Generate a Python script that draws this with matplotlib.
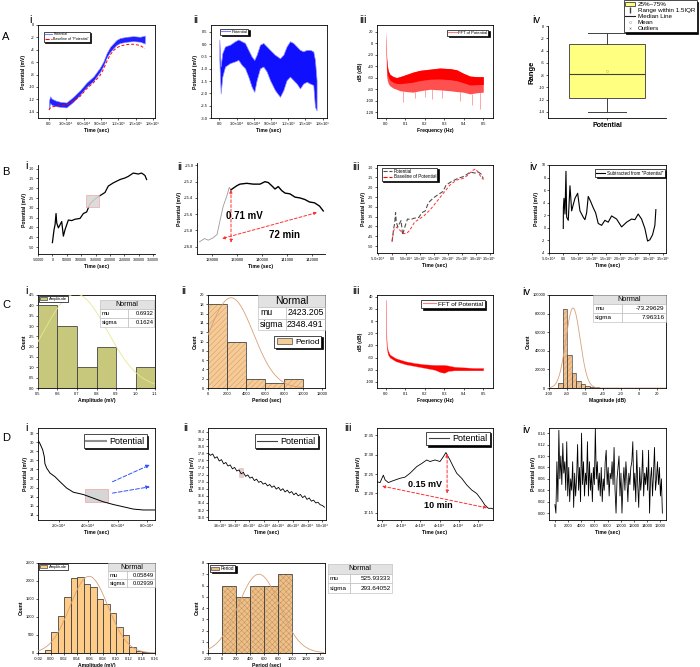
import numpy as np
import matplotlib
matplotlib.use("Agg")
import matplotlib.pyplot as plt
from matplotlib.patches import Rectangle, Patch
from matplotlib.lines import Line2D

# ------------------------------------------------------------------ data
# A.i  potential (noise band) and its baseline
ai_t = [0, 2000, 5000, 12000, 20000, 30000, 42000, 54000, 65000, 77000, 88000, 94000,
        100000, 106000, 112000, 117000, 123000, 135000, 146000, 158000, 166000]
ai_hi = [-12.2, -11.5, -11.9, -12.2, -12.4, -12.5, -11.6, -10.5, -9.3, -8.3, -6.9, -5.9,
         -4.5, -3.5, -2.9, -2.4, -2.1, -1.9, -1.8, -1.9, -1.7]
ai_lo = [-13.6, -12.6, -12.9, -13.1, -13.2, -13.3, -12.4, -11.2, -10.0, -9.0, -7.6, -6.6,
         -5.2, -4.3, -3.7, -3.2, -2.9, -2.7, -2.6, -2.7, -3.0]
ai_base = [-13.7, -13.4, -13.2, -13.1, -13.0, -12.9, -12.3, -11.5, -10.3, -9.3, -8.2, -7.2,
           -5.9, -4.8, -4.1, -3.7, -3.4, -3.15, -3.1, -3.3, -3.8]

# A.ii  detrended potential (noise band)
aii_t = [0, 2300, 5200, 9900, 18600, 27300, 33100, 38900, 44700, 50500, 56300, 60900, 65000,
         70800, 76600, 82400, 88200, 96900, 105600, 111400, 117200, 123000, 128800, 134600,
         140400, 146200, 152000, 157800, 163600, 166500, 169400]
aii_hi = [0.19, -0.9, -0.36, -0.09, -0.02, 0.12, 0.19, 0.12, 0.05, -0.23, -0.5, -0.64, -0.43,
          -0.02, 0.05, -0.09, -0.23, -0.43, -0.57, -0.43, -0.09, 0.12, 0.05, -0.09, -0.23,
          -0.29, -0.23, -0.23, -0.29, -0.64, -1.46]
aii_lo = [-0.64, -2.0, -1.32, -0.91, -0.77, -0.7, -0.64, -0.84, -0.98, -1.32, -1.73, -1.94,
          -1.46, -0.98, -0.91, -1.11, -1.46, -1.87, -2.14, -1.87, -1.46, -1.32, -1.46, -1.6,
          -1.8, -1.6, -1.53, -1.6, -1.66, -2.55, -2.69]

# A.iii FFT of potential (band)
aiii_f = [0.0, 0.0034, 0.0068, 0.012, 0.0205, 0.0377, 0.0548, 0.072, 0.106, 0.140, 0.175,
          0.226, 0.277, 0.329, 0.363, 0.397, 0.432, 0.466, 0.5]
aiii_hi = [21, -25, -39, -48, -54, -58, -59.5, -58, -54, -50, -47, -45, -43, -44, -46, -52,
           -57, -58, -58]
aiii_lo = [-10, -57, -64, -70, -74, -78, -80, -82.5, -84, -85, -82.5, -80, -81, -82.5, -84,
           -85, -88, -86, -85]
aiii_spk_f = [0.09, 0.15, 0.2, 0.235, 0.29, 0.38, 0.44, 0.485]
aiii_spk_v = [-103, -95, -94, -97, -95, -101, -108, -114]

# A.iv box statistics
aiv_stats = dict(q1=-11.8, med=-7.8, q3=-3.0, whislo=-14.0, whishi=-1.2, mean=-7.4)

# B.i  potential
bi_t = [0, 3500, 5700, 9200, 12600, 15000, 20700, 26500, 32300, 38000, 43800, 49600, 55400,
        66900, 78500, 95800, 107400, 118900, 130500, 147800, 165100, 182400, 194000, 211300,
        234400, 251800, 263300, 280600, 297900, 309500, 321100, 326900]
bi_v = [-47.7, -43.6, -41.1, -38.6, -32.9, -37.7, -40.2, -38.6, -37.0, -44.4, -41.1, -38.6,
        -36.2, -36.5, -35.8, -35.4, -32.9, -32.1, -27.9, -25.5, -23.8, -22.2, -18.9, -17.3,
        -15.6, -14.8, -14.0, -12.3, -12.8, -12.3, -13.5, -15.6]

# B.ii  zoomed potential
bii_t = [137500, 137700, 137850, 138050, 138200, 138320, 138450, 138590, 138690, 138760,
         138850, 138990, 139120, 139390, 139650, 139920, 140120, 140250, 140390, 140520,
         140650, 140790, 140920, 141120, 141320, 141520, 141720, 141900, 142100, 142300, 142450]
bii_v = [-25.94, -25.90, -25.92, -25.89, -25.85, -25.68, -25.50, -25.38, -25.27, -25.30,
         -25.28, -25.25, -25.23, -25.22, -25.23, -25.23, -25.20, -25.21, -25.25, -25.29,
         -25.26, -25.31, -25.34, -25.35, -25.39, -25.40, -25.42, -25.45, -25.46, -25.50, -25.56]

# B.iii baseline of potential
biii_t = [0, 5900, 17300, 28700, 40500, 51900, 63300, 80600, 115200, 138400, 161600, 184400,
          207600, 230800, 253600, 270900, 288200, 300000, 311400, 322800, 328700]
biii_v = [-47.7, -42.0, -40.3, -42.0, -43.6, -43.6, -42.0, -37.8, -34.5, -31.2, -27.1, -23.0,
          -18.9, -16.4, -15.6, -14.0, -11.5, -10.7, -13.1, -15.6, -16.0]

# B.iv subtracted
biv_t = [0, 500, 2500, 6000, 9500, 11900, 17500, 23500, 29400, 35000, 41000, 50400, 58500,
         70000, 75900, 81900, 87500, 95900, 105000, 113400, 122500, 134400, 146000, 157500,
         169400, 186900, 204400, 221900, 239400, 251000, 262500, 274400, 286000, 295400,
         303500, 312900, 321000, 324500]
biv_v = [-0.1, 3.2, 4.7, 2.2, 9.0, 1.7, 1.2, 6.7, 2.7, 3.7, 4.7, 5.5, 2.7, 1.7, 1.3, 2.4,
         5.0, 4.2, 3.2, 2.4, 0.7, 0.4, 1.2, 0.9, 1.9, 1.4, 0.15, 0.9, 1.4, 1.3, 2.2, 1.4,
         -0.1, -2.1, -1.9, -1.1, 0.4, 2.9]

# C.i amplitude histogram
ci_edges = [0.5, 0.6, 0.7, 0.8, 0.9, 1.0, 1.1]
ci_counts = [4, 3, 1, 2, 0, 1]
ci_mu, ci_sigma, ci_peak = 0.6932, 0.1624, 4.55

# C.ii period histogram
cii_edges = [0, 2000, 4000, 6000, 8000, 10000]
cii_counts = [18, 10, 2, 1, 2]
cii_mu, cii_sigma, cii_peak = 2423.205, 2348.491, 19.4

# C.iii FFT (band)
ciii_f = [0.0, 0.001, 0.003, 0.005, 0.01, 0.02, 0.05, 0.1, 0.15, 0.2, 0.25, 0.28, 0.3, 0.32,
          0.35, 0.4, 0.45, 0.5]
ciii_hi = [35, 0, -30, -40, -48, -55, -61, -66, -69, -71, -72, -72, -72, -73, -75, -76, -77, -77]
ciii_lo = [5, -25, -42, -47, -55, -60, -66, -71, -74, -77, -80, -84, -85, -82, -81, -81, -81, -81]

# C.iv magnitude histogram
civ_edges = [-90, -85, -80, -75, -70, -65, -60, -55, -50, -45, -40, -35, -30]
civ_counts = [5000, 85000, 35000, 16000, 8000, 4000, 2000, 1000, 600, 300, 150, 80]
civ_mu, civ_sigma, civ_peak = -73.29629, 7.96316, 86000

# D.i potential
di_t = [5900, 7000, 8900, 10000, 10400, 11600, 13900, 17300, 20700, 25300, 29800, 36600,
        43400, 50200, 57100, 63900, 70700, 77500, 85500]
di_v = [30.3, 29.7, 28.3, 26.8, 25.3, 24.3, 23.2, 22.4, 21.3, 19.9, 19.0, 18.5, 17.7, 16.9,
        16.3, 15.8, 15.3, 15.1, 15.1]

# D.ii zoomed potential (sawtooth)
dii_t = [34400, 34700, 35000, 35300, 35600, 35900, 36200, 36500, 36800, 37100, 37400, 37700,
         38000, 38300, 38600, 38900, 39200, 39500, 39800, 40100, 40400, 40700, 41000, 41300,
         41600, 41900, 42200, 42500, 42800, 43100, 43400, 43700, 44000, 44300, 44600, 44900,
         45200, 45500, 45800, 46100, 46400, 46700, 47000, 47300, 47600, 47900, 48200, 48500,
         48800, 49100, 49400, 49700, 50000, 50300]
dii_v = [17.80, 17.74, 17.78, 17.66, 17.70, 17.58, 17.62, 17.50, 17.54, 17.44, 17.47, 17.36,
         17.40, 17.30, 17.33, 17.22, 17.26, 17.15, 17.19, 17.10, 17.13, 17.03, 17.07, 16.98,
         17.01, 16.93, 16.96, 16.88, 16.92, 16.84, 16.88, 16.79, 16.84, 16.75, 16.80, 16.71,
         16.76, 16.68, 16.72, 16.63, 16.68, 16.60, 16.64, 16.55, 16.60, 16.50, 16.54, 16.45,
         16.48, 16.40, 16.42, 16.35, 16.33, 16.28]

# D.iii 10-min detail
diii_t = [39974, 39990, 40007, 40016, 40033, 40059, 40094, 40120, 40146, 40181, 40207, 40233,
          40250, 40276, 40302, 40319, 40333, 40345, 40354, 40371, 40389, 40415, 40441, 40467,
          40493, 40519, 40536, 40554, 40571, 40579]
diii_v = [17.230, 17.228, 17.247, 17.235, 17.228, 17.233, 17.239, 17.242, 17.252, 17.269,
          17.277, 17.286, 17.282, 17.286, 17.282, 17.294, 17.305, 17.294, 17.286, 17.269,
          17.252, 17.239, 17.222, 17.209, 17.200, 17.183, 17.170, 17.162, 17.162, 17.160]

# D.iv oscillation
div_v = [0.015, 0.00, 0.09, 0.02, 0.145, 0.06, 0.10, 0.05, 0.122, 0.07, 0.09, 0.04, 0.125,
         0.03, 0.08, 0.02, 0.06, 0.04, 0.09, 0.01, 0.07, 0.03, 0.06, 0.12, 0.04, 0.08, 0.02,
         0.14, 0.05, 0.09, 0.03, 0.07, 0.05, 0.125, 0.03, 0.09, 0.04, 0.07, 0.02, 0.08, 0.05,
         0.148, 0.06, 0.09, 0.04, 0.07, 0.03, 0.08, 0.02, 0.06, 0.04, 0.09, 0.11, 0.05, 0.08,
         0.03, 0.07, 0.06, 0.09, 0.05, 0.115, 0.04, 0.00, 0.06, 0.08, 0.10, 0.03, 0.07, 0.00,
         0.05, 0.08, 0.04, 0.09, 0.06, 0.02, 0.07, 0.05, 0.08, 0.09, 0.125, 0.04, 0.07, 0.02,
         0.11, 0.05, 0.01, 0.08, 0.04, 0.06, 0.11, 0.03, 0.07, 0.05, 0.08, 0.04, 0.11, 0.00,
         0.06, 0.08, 0.03, 0.07, 0.115, 0.04, 0.06, 0.09, 0.05, 0.08, 0.03, 0.06, 0.00]
div_dt = 150

# E.i amplitude histogram
ei_edges = [-0.01, 0.0, 0.01, 0.02, 0.03, 0.04, 0.05, 0.06, 0.07, 0.08, 0.09, 0.10, 0.11,
            0.12, 0.13, 0.14, 0.15]
ei_counts = [80, 580, 1040, 1550, 2090, 2115, 1920, 1840, 1510, 1350, 1100, 715, 490, 170, 50, 20]
ei_mu, ei_sigma, ei_peak = 0.05849, 0.02939, 2130

# E.ii period histogram
eii_edges = [0, 200, 400, 600, 800, 1000]
eii_counts = [6, 5, 6, 6, 7]
eii_mu, eii_sigma, eii_peak = 525.93333, 293.64052, 7.0

# ------------------------------------------------------------------ style
plt.rcParams['font.family'] = ['Liberation Sans', 'DejaVu Sans']
plt.rcParams['axes.unicode_minus'] = False
plt.rcParams['hatch.linewidth'] = 0.35
plt.rcParams['axes.linewidth'] = 0.6

W, H = 700, 667
fig = plt.figure(figsize=(7, 6.67), dpi=100)


def axpx(l, t, r, b):
    return fig.add_axes([l / W, 1 - b / H, (r - l) / W, (b - t) / H])


def fmt(ax, xlabel, ylabel, box=True, fs=2.9, lfs=3.6):
    ax.tick_params(labelsize=fs, length=1.6, width=0.45, pad=1.0)
    ax.set_xlabel(xlabel, fontsize=lfs, fontweight='bold', labelpad=1.5)
    ax.set_ylabel(ylabel, fontsize=lfs, fontweight='bold', labelpad=1.5)
    if not box:
        ax.spines['top'].set_visible(False)
        ax.spines['right'].set_visible(False)


def ticks(ax, xt=None, xl=None, yt=None, yl=None):
    if xt is not None:
        ax.set_xticks(xt)
        ax.set_xticklabels(xl)
    if yt is not None:
        ax.set_yticks(yt)
        ax.set_yticklabels(yl)


def sci(m, e):
    sup = {'4': '⁴', '5': '⁵'}
    return f"{m}×10{sup[str(e)]}"


def leg(ax, handles, labels, fs, loc, anchor, shadow=True, hl=2.0):
    sh = {'ox': 1.0, 'oy': -1.0, 'facecolor': 'black', 'edgecolor': 'black', 'alpha': 1} if shadow else False
    lg = ax.legend(handles, labels, fontsize=fs, loc=loc, bbox_to_anchor=anchor,
                   frameon=True, fancybox=False, edgecolor='black', framealpha=1,
                   shadow=sh, borderpad=0.25, handlelength=hl, handletextpad=0.4,
                   labelspacing=0.15, borderaxespad=0)
    lg.get_frame().set_linewidth(0.5)
    return lg


def table(ax, x0, x1, y0, y1, split, rows, fs, fsh):
    n = len(rows) + 1
    h = (y1 - y0) / n
    tr = ax.transAxes
    kw = dict(transform=tr, edgecolor='#b5b5b5', lw=0.4, clip_on=False, zorder=6)
    ax.add_patch(Rectangle((x0, y1 - h), x1 - x0, h, facecolor='#e2e2e2', **kw))
    ax.text((x0 + x1) / 2, y1 - h / 2, 'Normal', transform=tr, ha='center', va='center',
            fontsize=fsh, zorder=7, clip_on=False)
    for i, (lab, val) in enumerate(rows):
        yb = y1 - h * (i + 2)
        ax.add_patch(Rectangle((x0, yb), split - x0, h, facecolor='white', **kw))
        ax.add_patch(Rectangle((split, yb), x1 - split, h, facecolor='white', **kw))
        ax.text(x0 + 0.03 * (x1 - x0), yb + h / 2, lab, transform=tr, ha='left', va='center',
                fontsize=fs, zorder=7, clip_on=False)
        ax.text(x1 - 0.02 * (x1 - x0), yb + h / 2, val, transform=tr, ha='right', va='center',
                fontsize=fs, zorder=7, clip_on=False)


def hist(ax, edges, counts, face, hatch=None, hatchcol=None, ec='#4a4a4a', lw=0.6):
    lefts = edges[:-1]
    widths = np.diff(edges)
    ax.bar(lefts, counts, width=widths, align='edge', color=face, edgecolor=hatchcol if hatch else face,
           hatch=hatch, lw=0, zorder=2)
    ax.bar(lefts, counts, width=widths, align='edge', fill=False, edgecolor=ec, lw=lw, zorder=3)


def normal(ax, lo, hi, mu, sigma, peak, color):
    x = np.linspace(lo, hi, 300)
    ax.plot(x, peak * np.exp(-0.5 * ((x - mu) / sigma) ** 2), color=color, lw=0.6, zorder=4)


def label(x, y, s, fs=8):
    fig.text(x / W, 1 - y / H, s, fontsize=fs, ha='center', va='center')


# row letters and panel numerals
for s, y in zip('ABCD', [37, 172, 305, 438]):
    label(6, y, s, 8)
for s, x, y in [('i', 31, 20), ('ii', 196, 20), ('iii', 363, 20), ('iv', 536, 20),
                ('i', 27, 166), ('ii', 180, 167), ('iii', 356, 167), ('iv', 533, 167),
                ('i', 27, 291), ('ii', 184, 291), ('iii', 356, 291), ('iv', 526, 292),
                ('i', 26, 428), ('ii', 186, 428), ('iii', 348, 428), ('iv', 526, 430)]:
    label(x, y, s, 8)

t_sci = [-5e4, 0, 5e4, 1e5, 1.5e5, 2e5, 2.5e5, 3e5, 3.5e5]
t_sci_l = [sci('-5.0', 4), '0.0', sci('5.0', 4), sci('1.0', 5), sci('1.5', 5), sci('2.0', 5),
           sci('2.5', 5), sci('3.0', 5), sci('3.5', 5)]
a_xt = [0, 3e4, 6e4, 9e4, 1.2e5, 1.5e5, 1.8e5]
a_xl = ['0.0', sci('3.0', 4), sci('6.0', 4), sci('9.0', 4), sci('1.2', 5), sci('1.5', 5), sci('1.8', 5)]

# ---------------- A.i
ax = axpx(38, 25, 155, 118)
ax.fill_between(ai_t, ai_lo, ai_hi, color='#2020ff', lw=0.4, edgecolor='#8a8aff')
ax.plot(ai_t, ai_base, color='red', ls=(0, (3, 2)), lw=0.7)
ax.set_xlim(-1.9e4, 1.835e5)
ax.set_ylim(-15, 0)
ticks(ax, a_xt, a_xl, list(range(0, -15, -2)), [str(v) for v in range(0, -15, -2)])
fmt(ax, 'Time (sec)', 'Potential (mV)')
leg(ax, [Line2D([], [], color='#8080ff', lw=0.8), Line2D([], [], color='red', ls='--', lw=0.8)],
    ['Potential', 'Baseline of "Potential"'], 2.6, 'upper left', (0.05, 0.93))

# ---------------- A.ii
ax = axpx(211, 25, 327, 118)
ax.fill_between(aii_t, aii_lo, aii_hi, color='#1010ff', lw=0.5, edgecolor='#9090ff')
ax.set_xlim(-1.45e4, 1.875e5)
ax.set_ylim(-3.0, 0.78)
yt = [0.5, 0.0, -0.5, -1.0, -1.5, -2.0, -2.5, -3.0]
ticks(ax, a_xt, a_xl, yt, [f"{v:.1f}" for v in yt])
fmt(ax, 'Time (sec)', 'Potential (mV)')
leg(ax, [Line2D([], [], color='#8080ff', lw=0.8)], ['Potential'], 3.0, 'upper left', (0.08, 0.96))

# ---------------- A.iii
ax = axpx(377, 25, 493, 118)
mid = [(h + l) / 2 for h, l in zip(aiii_hi, aiii_lo)]
ax.fill_between(aiii_f, aiii_lo, aiii_hi, color='#ff5050', lw=0)
ax.fill_between(aiii_f, mid, aiii_hi, color='red', lw=0)
ax.vlines(aiii_spk_f, np.interp(aiii_spk_f, aiii_f, aiii_lo), aiii_spk_v, color='#ff6060', lw=0.4)
ax.set_xlim(-0.046, 0.55)
ax.set_ylim(-130, 32)
ticks(ax, [0, 0.1, 0.2, 0.3, 0.4, 0.5], ['0.0', '0.1', '0.2', '0.3', '0.4', '0.5'],
      list(range(20, -121, -20)), [str(v) for v in range(20, -121, -20)])
fmt(ax, 'Frequency (Hz)', 'dB (dB)')
leg(ax, [Line2D([], [], color='#ff8080', lw=0.8)], ['FFT of Potential'], 3.0, 'upper right', (0.96, 0.95))

# ---------------- A.iv
ax = axpx(548, 26, 666, 118)
st = dict(aiv_stats)
st['fliers'] = []
ax.bxp([st], positions=[1], widths=0.64, showmeans=True, patch_artist=True,
       boxprops=dict(facecolor='#ffff80', edgecolor='#505050', lw=0.7),
       medianprops=dict(color='#404040', lw=0.8),
       whiskerprops=dict(color='#404040', lw=0.7), capprops=dict(color='#404040', lw=0.7),
       capwidths=[0.33],
       meanprops=dict(marker='s', markersize=1.2, markerfacecolor='none', markeredgecolor='#bbbb66', markeredgewidth=0.4))
ax.set_xlim(0.5, 1.5)
ax.set_ylim(-15, 0)
ticks(ax, [1], ['Potential'], list(range(0, -15, -2)), [str(v) for v in range(0, -15, -2)])
ax.tick_params(axis='y', labelsize=2.9, length=1.6, width=0.45, pad=1)
ax.tick_params(axis='x', labelsize=5.0, length=1.6, width=0.45, pad=1.5)
for lab in ax.get_xticklabels():
    lab.set_fontweight('bold')
ax.set_ylabel('Range', fontsize=5.5, fontweight='bold', labelpad=2)
ax.spines['top'].set_visible(False)
ax.spines['right'].set_visible(False)
lg = fig.legend([Patch(facecolor='#ffff80', edgecolor='#404040', lw=0.6),
                 Line2D([], [], color='#404040', marker='$\\mathrm{I}$', ls='none', markersize=4),
                 Line2D([], [], color='#202020', lw=0.8),
                 Line2D([], [], color='#aaaaaa', marker='s', ls='none', markersize=1.3, markerfacecolor='none', markeredgewidth=0.4),
                 Line2D([], [], color='#777777', marker='x', ls='none', markersize=1.3, markeredgewidth=0.4)],
                ['25%~75%', 'Range within 1.5IQR', 'Median Line', 'Mean', 'Outliers'],
                fontsize=4.5, loc='upper right', bbox_to_anchor=(0.995, 0.9995), frameon=True, fancybox=False,
                edgecolor='black', framealpha=1, borderpad=0.2, handlelength=1.6, handletextpad=0.4,
                labelspacing=0.1, borderaxespad=0,
                shadow={'ox': 1.0, 'oy': -1.0, 'facecolor': 'black', 'edgecolor': 'black', 'alpha': 1})
lg.get_frame().set_linewidth(0.5)

# ---------------- B.i
ax = axpx(38, 165, 155, 254)
ax.plot(bi_t, bi_v, color='black', lw=0.9)
ax.add_patch(Rectangle((116800, -29.75), 45100, 6.45, facecolor='#d9d9d9', edgecolor='#f0a0a0', lw=0.5, alpha=0.9, zorder=3))
ax.set_xlim(-5.0e4, 3.56e5)
ax.set_ylim(-53.5, -8.2)
bxt = list(range(-50000, 350001, 50000))
ticks(ax, bxt, [str(v) for v in bxt], list(range(-10, -51, -5)), [str(v) for v in range(-10, -51, -5)])
fmt(ax, 'Time (sec)', 'Potential (mV)', box=False, fs=2.6)

# ---------------- B.ii
ax = axpx(197, 163, 325, 254)
split = 9
ax.plot(bii_t[:split + 1], bii_v[:split + 1], color='#9a9a9a', lw=0.6)
ax.plot(bii_t[split:], bii_v[split:], color='black', lw=1.0)
ax.set_xlim(137400, 142520)
ax.set_ylim(-26.09, -24.97)
bxt2 = [138000, 139000, 140000, 141000, 142000]
byt2 = [-25.0, -25.2, -25.4, -25.6, -25.8, -26.0]
ticks(ax, bxt2, [str(v) for v in bxt2], byt2, [f"{v:.1f}" for v in byt2])
fmt(ax, 'Time (sec)', 'Potential (mV)', box=False)
ap = dict(arrowstyle='<|-|>', color='#ff3030', lw=0.7, ls=(0, (3, 2)), mutation_scale=4, shrinkA=0, shrinkB=0)
ax.annotate('', xy=(138760, -25.30), xytext=(138760, -25.95), arrowprops=ap)
ax.annotate('', xy=(138400, -25.90), xytext=(142200, -25.58), arrowprops=ap)
ax.text(139300, -25.62, '0.71 mV', fontsize=7, fontweight='bold', ha='center', va='center')
ax.text(140900, -25.85, '72 min', fontsize=7, fontweight='bold', ha='center', va='center')

# ---------------- B.iii
ax = axpx(377, 165, 493, 253)
ax.plot(bi_t, bi_v, color='#505050', ls=(0, (4, 2)), lw=0.8)
ax.plot(biii_t, biii_v, color='#ff3030', ls=(0, (3, 2)), lw=0.7)
ax.set_xlim(-5.4e4, 3.62e5)
ax.set_ylim(-53.5, -8.7)
ticks(ax, t_sci, t_sci_l, list(range(-10, -51, -5)), [str(v) for v in range(-10, -51, -5)])
fmt(ax, 'Time (sec)', 'Potential (mV)', fs=2.6)
leg(ax, [Line2D([], [], color='#505050', ls='--', lw=0.8), Line2D([], [], color='red', ls='--', lw=0.8)],
    ['Potential', 'Baseline of Potential'], 3.3, 'upper left', (0.04, 0.97))

# ---------------- B.iv
ax = axpx(549, 165, 666, 253)
ax.plot(biv_t, biv_v, color='black', lw=0.8)
ax.set_xlim(-5.0e4, 3.6e5)
ax.set_ylim(-4, 10)
ticks(ax, t_sci, t_sci_l, list(range(-4, 11, 2)), [str(v) for v in range(-4, 11, 2)])
fmt(ax, 'Time (sec)', 'Potential (mV)', fs=2.6)
leg(ax, [Line2D([], [], color='black', lw=0.8)], ['Subtracted from "Potential"'], 3.3, 'upper right', (0.99, 0.95))

# ---------------- C.i
ax = axpx(38, 295, 155, 388)
hist(ax, ci_edges, ci_counts, '#c8c87c')
normal(ax, 0.5, 1.1, ci_mu, ci_sigma, ci_peak, '#e8e890')
ax.set_xlim(0.5, 1.1)
ax.set_ylim(0, 4.5)
cyt = [0, 0.5, 1, 1.5, 2, 2.5, 3, 3.5, 4, 4.5]
ticks(ax, [0.5, 0.6, 0.7, 0.8, 0.9, 1.0, 1.1], ['0.5', '0.6', '0.7', '0.8', '0.9', '1.0', '1.1'],
      cyt, [f"{v:.1f}" for v in cyt])
fmt(ax, 'Amplitude (mV)', 'Count')
leg(ax, [Patch(facecolor='#c8c87c', edgecolor='#4a4a4a', lw=0.5)], ['Amplitude'], 3.0, 'upper left',
    (0.01, 0.99), shadow=False, hl=1.6)
table(ax, 0.53, 0.995, 0.656, 0.946, 0.77, [('mu', '0.6932'), ('sigma', '0.1624')], 4.2, 5.0)

# ---------------- C.ii
ax = axpx(208, 295, 325, 388)
hist(ax, cii_edges, cii_counts, '#f5cb98', hatch='//////', hatchcol='#d8985a')
normal(ax, 0, 10000, cii_mu, cii_sigma, cii_peak, '#d8a078')
ax.set_xlim(0, 12300)
ax.set_ylim(0, 20)
ticks(ax, list(range(0, 12001, 2000)), [str(v) for v in range(0, 12001, 2000)],
      list(range(0, 21, 2)), [str(v) for v in range(0, 21, 2)])
fmt(ax, 'Period (sec)', 'Count')
leg(ax, [Patch(facecolor='#f5cb98', edgecolor='#4a4a4a', lw=0.5)], ['Period'], 6.0, 'upper right',
    (0.97, 0.56), hl=1.8)
table(ax, 0.43, 1.0, 0.62, 1.0, 0.67, [('mu', '2423.205'), ('sigma', '2348.491')], 6.3, 7.5)

# ---------------- C.iii
ax = axpx(377, 295, 493, 388)
ax.fill_between(ciii_f, ciii_lo, ciii_hi, color='red', lw=0.2, edgecolor='#ff6060')
ax.set_xlim(-0.046, 0.55)
ax.set_ylim(-110, 43)
ticks(ax, [0, 0.1, 0.2, 0.3, 0.4, 0.5], ['0.0', '0.1', '0.2', '0.3', '0.4', '0.5'],
      list(range(40, -101, -20)), [str(v) for v in range(40, -101, -20)])
fmt(ax, 'Frequency (Hz)', 'dB (dB)')
leg(ax, [Line2D([], [], color='#ff8080', lw=0.8)], ['FFT of Potential'], 4.6, 'upper right', (0.93, 0.95))

# ---------------- C.iv
ax = axpx(549, 295, 666, 388)
hist(ax, civ_edges, civ_counts, '#f0c08e', hatch='//////', hatchcol='#d8985a', lw=0.5)
normal(ax, -100, 30, civ_mu, civ_sigma, civ_peak, '#d8a078')
ax.set_xlim(-100, 30)
ax.set_ylim(0, 100000)
ticks(ax, list(range(-100, 21, 20)), [str(v) for v in range(-100, 21, 20)],
      list(range(0, 100001, 20000)), [str(v) for v in range(0, 100001, 20000)])
fmt(ax, 'Magnitude (dB)', 'Count')
table(ax, 0.376, 1.0, 0.71, 1.0, 0.62, [('mu', '-73.29629'), ('sigma', '7.96316')], 4.6, 5.2)

# ---------------- D.i
ax = axpx(38, 428, 155, 520)
ax.plot(di_t, di_v, color='black', lw=0.7)
ax.add_patch(Rectangle((37800, 16.75), 15800, 2.85, facecolor='#d6d6d6', edgecolor='#f0a0a0', lw=0.5, zorder=1))
ap_b = dict(arrowstyle='-|>', color='#3050ff', lw=0.7, ls=(0, (4, 2)), mutation_scale=5, shrinkA=0, shrinkB=0)
ax.annotate('', xy=(82000, 25.0), xytext=(56500, 21.3), arrowprops=ap_b)
ax.annotate('', xy=(82000, 20.2), xytext=(56500, 18.8), arrowprops=ap_b)
ax.set_xlim(5700, 85500)
ax.set_ylim(12.9, 33.1)
ticks(ax, [2e4, 4e4, 6e4, 8e4], [sci('2.0', 4), sci('4.0', 4), sci('6.0', 4), sci('8.0', 4)],
      list(range(14, 33, 2)), [str(v) for v in range(14, 33, 2)])
fmt(ax, 'Time (sec)', 'Potential (mV)')
leg(ax, [Line2D([], [], color='#909090', lw=1.5)], ['Potential'], 6.5, 'upper right', (0.93, 0.93), hl=2.2)

# ---------------- D.ii
ax = axpx(208, 428, 326, 520)
ax.plot(dii_t, dii_v, color='black', lw=0.6)
ax.add_patch(Rectangle((38600, 17.13), 600, 0.25, facecolor='#e0d0d0', edgecolor='#f0b0b0', lw=0.4, zorder=1))
ax.set_xlim(34360, 50500)
ax.set_ylim(15.92, 18.51)
dxt = [36000, 38000, 40000, 42000, 44000, 46000, 48000, 50000]
ticks(ax, dxt, [sci(f"{v/1e4:.1f}", 4) for v in dxt],
      [16.0 + 0.2 * i for i in range(13)], [f"{16.0 + 0.2 * i:.1f}" for i in range(13)])
fmt(ax, 'Time (sec)', 'Potential (mV)', fs=2.6)
leg(ax, [Line2D([], [], color='#404040', lw=0.8)], ['Potential'], 6.5, 'upper right', (0.93, 0.93), hl=2.2)

# ---------------- D.iii
ax = axpx(377, 428, 493, 520)
ax.plot(diii_t, diii_v, color='black', lw=0.6)
ap = dict(arrowstyle='<|-|>', color='#ff3030', lw=0.7, ls=(0, (3, 2)), mutation_scale=4, shrinkA=0, shrinkB=0)
ax.annotate('', xy=(40339, 17.302), xytext=(40339, 17.20), arrowprops=ap)
ax.annotate('', xy=(40000, 17.219), xytext=(40547, 17.163), arrowprops=ap)
ax.text(40224, 17.223, '0.15 mV', fontsize=6.5, fontweight='bold', ha='center', va='center')
ax.text(40292, 17.17, '10 min', fontsize=6.5, fontweight='bold', ha='center', va='center')
ax.set_xlim(39974, 40578)
ax.set_ylim(17.132, 17.368)
dyt = [17.15, 17.20, 17.25, 17.30, 17.35]
ticks(ax, [40000, 40100, 40200, 40300, 40400, 40500], ['4×10⁴'] * 6, dyt, [f"{v:.2f}" for v in dyt])
fmt(ax, 'Time (sec)', 'Potential (mV)')
leg(ax, [Line2D([], [], color='#404040', lw=0.8)], ['Potential'], 6.5, 'upper right', (0.97, 0.96), hl=2.2)

# ---------------- D.iv
ax = axpx(549, 428, 666, 520)
div_t = [i * div_dt for i in range(len(div_v))]
ax.plot(div_t, div_v, color='black', lw=0.6)
ax.set_xlim(-900, 16900)
ax.set_ylim(-0.012, 0.149)
ticks(ax, list(range(0, 16001, 2000)), [str(v) for v in range(0, 16001, 2000)],
      [0.02 * i for i in range(8)], [f"{0.02 * i:.2f}" for i in range(8)])
fmt(ax, 'Time (sec)', 'Potential (mV)')

# ---------------- E.i
ax = axpx(38, 563, 155, 653)
hist(ax, ei_edges, ei_counts, '#ffcc88')
normal(ax, -0.02, 0.16, ei_mu, ei_sigma, ei_peak, '#d8a078')
ax.set_xlim(-0.02, 0.16)
ax.set_ylim(0, 2500)
ext = [-0.02 + 0.02 * i for i in range(10)]
ticks(ax, ext, [f"{v:.2f}" for v in ext], list(range(0, 2501, 500)), [str(v) for v in range(0, 2501, 500)])
fmt(ax, 'Amplitude (mV)', 'Count')
leg(ax, [Patch(facecolor='#ffcc88', edgecolor='#4a4a4a', lw=0.5)], ['Amplitude'], 3.0, 'upper left',
    (0.01, 0.99), shadow=False, hl=1.6)
table(ax, 0.6, 1.0, 0.733, 1.0, 0.76, [('mu', '0.05849'), ('sigma', '0.02939')], 4.2, 5.0)

# ---------------- E.ii
ax = axpx(208, 563, 325, 653)
hist(ax, eii_edges, eii_counts, '#ecc08c', hatch='xxxxxx', hatchcol='#c89050')
normal(ax, -200, 1450, eii_mu, eii_sigma, eii_peak, '#d8a078')
ax.set_xlim(-200, 1470)
ax.set_ylim(0, 8)
ticks(ax, list(range(-200, 1401, 200)), [str(v) for v in range(-200, 1401, 200)],
      list(range(0, 9)), [str(v) for v in range(0, 9)])
fmt(ax, 'Period (sec)', 'Count')
leg(ax, [Patch(facecolor='#ecc08c', edgecolor='#4a4a4a', lw=0.5)], ['Period'], 3.3, 'upper left',
    (0.02, 0.98), hl=1.6)
table(ax, 1.026, 1.573, 0.667, 0.99, 1.214, [('mu', '525.93333'), ('sigma', '293.64052')], 4.6, 5.0)

fig.savefig('out.png', dpi=100)
